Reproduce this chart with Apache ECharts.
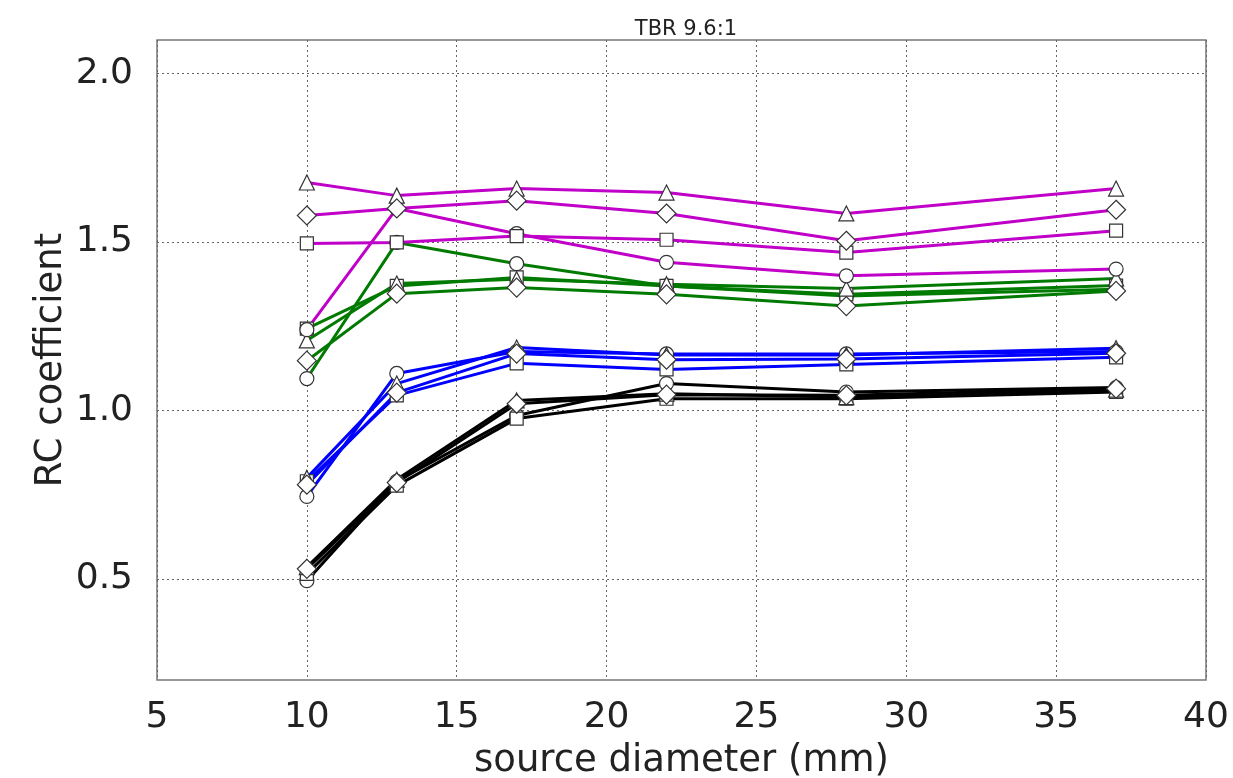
<!DOCTYPE html>
<html>
<head>
<meta charset="utf-8">
<script src="https://cdn.jsdelivr.net/npm/echarts@6/dist/echarts.min.js"></script>
<style>html,body{margin:0;padding:0;background:#fff}#c{width:1233px;height:778px}</style>
</head>
<body>
<div id="c"></div>
<script>
const diameters = [10, 13, 17, 22, 28, 37];
const yTicks = [0.5, 1.0, 1.5, 2.0];

// magenta
const magTriangle = [1.677, 1.638, 1.659, 1.647, 1.585, 1.659];
const magDiamond  = [1.579, 1.600, 1.623, 1.585, 1.504, 1.596];
const magSquare   = [1.496, 1.499, 1.518, 1.507, 1.469, 1.534];
const magCircle   = [1.240, 1.600, 1.525, 1.440, 1.400, 1.420];
// green
const grnTriangle = [1.208, 1.377, 1.390, 1.375, 1.362, 1.392];
const grnSquare   = [1.243, 1.370, 1.395, 1.370, 1.345, 1.371];
const grnDiamond  = [1.148, 1.347, 1.365, 1.345, 1.310, 1.355];
const grnCircle   = [1.095, 1.499, 1.436, 1.370, 1.340, 1.360];
// blue
const bluTriangle = [0.800, 1.080, 1.187, 1.165, 1.165, 1.185];
const bluCircle   = [0.745, 1.110, 1.175, 1.168, 1.168, 1.175];
const bluDiamond  = [0.780, 1.053, 1.169, 1.151, 1.153, 1.170];
const bluSquare   = [0.790, 1.045, 1.140, 1.122, 1.137, 1.158];
// black
const blkCircle   = [0.495, 0.790, 0.985, 1.080, 1.055, 1.068];
const blkDiamond  = [0.530, 0.786, 1.020, 1.047, 1.045, 1.065];
const blkSquare   = [0.515, 0.777, 0.976, 1.035, 1.035, 1.055];
const blkTriangle = [0.535, 0.795, 1.030, 1.050, 1.040, 1.062];

const MAG = '#c000c8', GRN = '#007a00', BLU = '#0000ff', BLK = '#000000';
const shapes = {
  circle: {symbol: 'circle', size: 14},
  rect: {symbol: 'rect', size: 13},
  triangle: {symbol: 'triangle', size: 15},
  diamond: {symbol: 'diamond', size: 19}
};
const defs = [
  ['black circle', blkCircle, BLK, 'circle'],
  ['black square', blkSquare, BLK, 'rect'],
  ['black triangle', blkTriangle, BLK, 'triangle'],
  ['black diamond', blkDiamond, BLK, 'diamond'],
  ['blue circle', bluCircle, BLU, 'circle'],
  ['blue square', bluSquare, BLU, 'rect'],
  ['blue triangle', bluTriangle, BLU, 'triangle'],
  ['blue diamond', bluDiamond, BLU, 'diamond'],
  ['green circle', grnCircle, GRN, 'circle'],
  ['green square', grnSquare, GRN, 'rect'],
  ['green triangle', grnTriangle, GRN, 'triangle'],
  ['green diamond', grnDiamond, GRN, 'diamond'],
  ['magenta circle', magCircle, MAG, 'circle'],
  ['magenta square', magSquare, MAG, 'rect'],
  ['magenta triangle', magTriangle, MAG, 'triangle'],
  ['magenta diamond', magDiamond, MAG, 'diamond']
];

const series = defs.map(([name, vals, color, shp]) => ({
  name: name,
  type: 'line',
  data: diameters.map((d, i) => [d, vals[i]]),
  symbol: shapes[shp].symbol,
  symbolSize: shapes[shp].size,
  showAllSymbol: true,
  lineStyle: {color: color, width: 3},
  itemStyle: {color: '#ffffff', borderColor: '#333333', borderWidth: 1.2},
  emphasis: {disabled: true},
  animation: false
}));

const FONT = 'DejaVu Sans';
const chart = echarts.init(document.getElementById('c'), null, {renderer: 'canvas'});
chart.setOption({
  backgroundColor: '#ffffff',
  animation: false,
  title: {
    text: 'TBR 9.6:1', left: 681, top: 14, textAlign: 'center',
    textStyle: {fontFamily: FONT, fontSize: 21, fontWeight: 'normal', color: '#222'}
  },
  grid: {
    left: 157, right: 27, top: 40, bottom: 98,
    outerBoundsMode: 'none', containLabel: false,
    show: true, borderColor: '#777', borderWidth: 1.5, backgroundColor: 'transparent'
  },
  xAxis: {
    type: 'value', min: 5, max: 40, interval: 5,
    name: 'source diameter (mm)', nameLocation: 'middle', nameGap: 63, nameMoveOverlap: false,
    nameTextStyle: {fontFamily: FONT, fontSize: 37, color: '#222'},
    axisLine: {show: false},
    axisTick: {show: false},
    axisLabel: {fontFamily: FONT, fontSize: 36, color: '#222', margin: 20},
    splitLine: {show: true, lineStyle: {type: [2, 3], color: '#666', width: 1}}
  },
  yAxis: {
    type: 'value', min: 0.2, max: 2.1,
    name: 'RC coefficient', nameLocation: 'middle', nameGap: 87, nameMoveOverlap: false,
    nameTextStyle: {fontFamily: FONT, fontSize: 37, color: '#222'},
    axisLine: {show: false},
    axisTick: {show: false, customValues: yTicks},
    axisLabel: {fontFamily: FONT, fontSize: 36, color: '#222', margin: 24,
      customValues: yTicks, formatter: v => v.toFixed(1)},
    splitLine: {show: true, lineStyle: {type: [2, 3], color: '#666', width: 1}}
  },
  series: series
});
</script>
</body>
</html>
